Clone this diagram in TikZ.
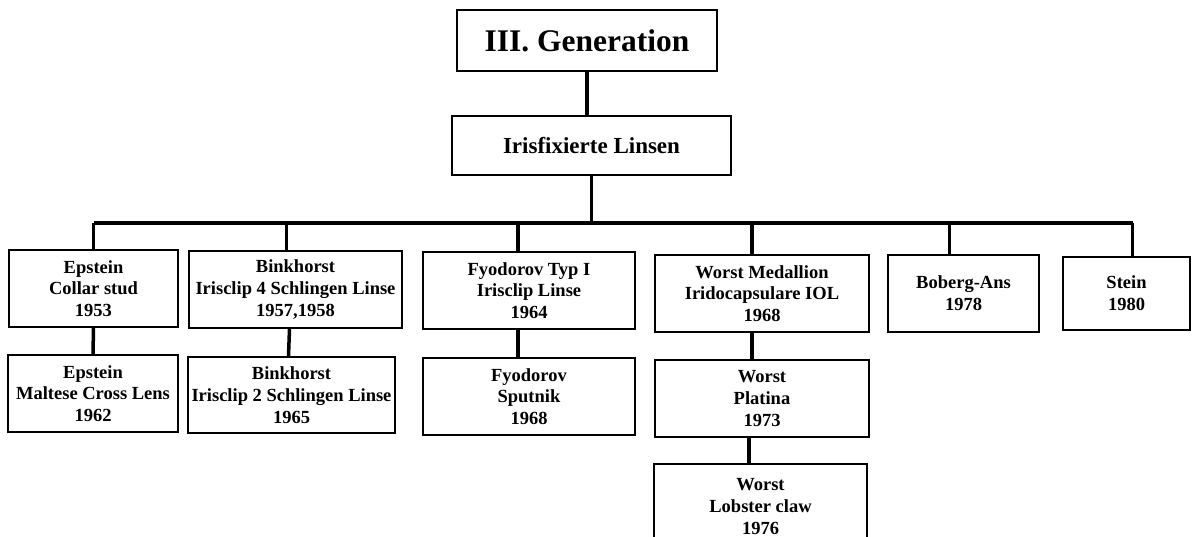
\documentclass[tikz,border=0pt]{standalone}
\usepackage{fontspec}
\setmainfont{Liberation Serif}
\usepackage{tikz}
\usetikzlibrary{positioning,calc}

\begin{document}
\begin{tikzpicture}[
        x=1pt, y=-1pt,
        box/.style={draw=black, line width=1.6pt, inner sep=0pt,
            align=center, font=\fontsize{18.5}{21.7}\selectfont\bfseries},
        conn/.style={black, line width=3.5pt},
        every node/.style={color=black},
    ]
    \clip (0,0) rectangle (1192,537);
    % top of the tree
    \node[box, minimum width=260, minimum height=61,
          font=\fontsize{31.5}{36}\selectfont\bfseries] at (587,40.5) (gen) {III. Generation};
    \node[box, minimum width=279, minimum height=59,
          font=\fontsize{23}{27}\selectfont\bfseries] at (591.5,145.5) (iris) {Irisfixierte Linsen};
    \coordinate (bus) at (591,223);

    % first row
    \node[box, minimum width=169, minimum height=77] at (93.5,288.5) (epsteinA) {Epstein\\Collar stud\\1953};
    \node[box, minimum width=213, minimum height=77] at (295.5,289.5) (binkA) {Binkhorst\\Irisclip 4 Schlingen Linse\\1957,1958};
    \node[box, minimum width=212, minimum height=77] at (529,290.5) (fyoA) {Fyodorov Typ I\\Irisclip Linse\\1964};
    \node[box, minimum width=214, minimum height=77] at (762,293.5) (worstA) {Worst Medallion\\Iridocapsulare IOL\\1968};
    \node[box, minimum width=151, minimum height=77] at (963.5,293.5) (boberg) {Boberg-Ans\\1978};
    \node[box, minimum width=127, minimum height=73] at (1126.5,293.5) (stein) {Stein\\1980};

    % second row
    \node[box, minimum width=170, minimum height=77] at (93,393.5) (epsteinB) {Epstein\\Maltese Cross Lens\\1962};
    \node[box, minimum width=207, minimum height=76] at (291.5,395) (binkB) {Binkhorst\\Irisclip 2 Schlingen Linse\\1965};
    \node[box, minimum width=212, minimum height=77] at (529,396.5) (fyoB) {Fyodorov\\Sputnik\\1968};
    \node[box, minimum width=214, minimum height=77] at (762,398.5) (worstB) {Worst\\Platina\\1973};
    \node[box, minimum width=213, minimum height=85] at (760.5,506.5) (worstC) {Worst\\Lobster claw\\1976};

    % connectors
    \draw[conn] (gen.south) -- (gen.south |- iris.north);
    \draw[conn] (iris.south) -- (iris.south |- bus);
    \draw[conn] (epsteinA.north |- bus) -- ([xshift=6]stein.north |- bus);
    \draw[conn] (epsteinA.north) -- (epsteinA.north |- bus);
    \draw[conn] ([xshift=-9]binkA.north) -- ([xshift=-9]binkA.north |- bus);
    \draw[conn] ([xshift=-11]fyoA.north) -- ([xshift=-11]fyoA.north |- bus);
    \draw[conn] ([xshift=-10]worstA.north) -- ([xshift=-10]worstA.north |- bus);
    \draw[conn] ([xshift=-14]boberg.north) -- ([xshift=-14]boberg.north |- bus);
    \draw[conn] ([xshift=6]stein.north) -- ([xshift=6]stein.north |- bus);

    \draw[conn] (epsteinA) -- (epsteinB);
    \draw[conn] ([xshift=-6]binkA.south) -- ([xshift=-3]binkB.north);
    \draw[conn] ([xshift=-11]fyoA.south) -- ([xshift=-11]fyoB.north);
    \draw[conn] ([xshift=-10]worstA.south) -- ([xshift=-10]worstB.north);
    \draw[conn] ([xshift=-13]worstB.south) -- ([xshift=-11.5]worstC.north);
\end{tikzpicture}
\end{document}
